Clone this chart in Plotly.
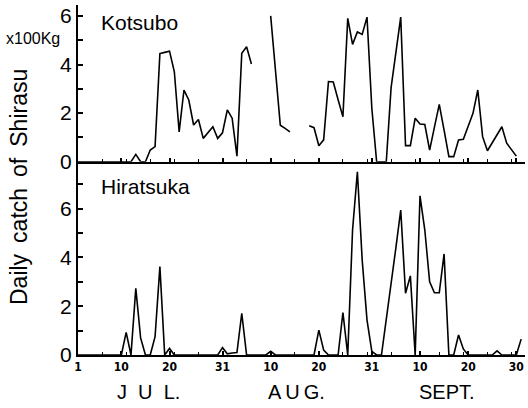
import plotly.graph_objects as go

# Day index: 0 = 1 July ... 91 = 30 September (92 = 1 October)
N = None

kotsubo = [
    0, 0, 0, 0, 0, 0, 0, 0, 0, 0,            # 0-9
    0, 0, 0.3, 0, 0, 0.48, 0.62, 4.45, 4.5, 4.55,   # 10-19
    3.7, 1.23, 2.95, 2.54, 1.51, 1.74, 0.96, 1.2, 1.44, 0.96,  # 20-29
    1.19, 2.13, 1.79, 0.23, 4.46, 4.73, 4.02, N, N, N,         # 30-39
    6.0, 3.8, 1.5, 1.37, 1.23, N, N, N, 1.48, 1.4,             # 40-49
    0.66, 0.9, 3.3, 3.28, 2.55, 1.85, 5.9, 4.83, 5.34, 5.24,   # 50-59
    5.95, 2.2, 0, 0, 0, 3.05, 4.5, 5.95, 0.66, 0.66,           # 60-69
    1.79, 1.55, 1.53, 0.48, 1.42, 2.36, 1.3, 0.21, 0.21, 0.89, # 70-79
    0.92, 1.45, 1.99, 2.95, 1.03, 0.45, 0.78, 1.1, 1.44, 0.76, # 80-89
    0.5, 0.23,                                                 # 90-91
]

hiratsuka = [
    0, 0, 0, 0, 0, 0, 0, 0, 0, 0,                    # 0-9
    0.93, 0, 2.73, 0.7, 0, 0, 0.75, 3.62, 0, 0.27,   # 10-19
    0, 0, 0, 0, 0, 0, 0, 0, 0, 0,                    # 20-29
    0.3, 0.05, 0.08, 0.1, 1.71, 0, 0, 0, 0, 0,       # 30-39
    0.15, 0, 0, 0, 0, 0, 0, 0, 0, 0,                 # 40-49
    1.02, 0.2, 0, 0, 0, 1.74, 0, 5.12, 7.51, 3.89,   # 50-59
    1.43, 0.15, 0, 0, 1.4, 2.9, 4.4, 5.94, 2.53, 3.24,  # 60-69
    0, 6.52, 5.12, 3.0, 2.55, 2.55, 4.14, 0, 0, 0.82,   # 70-79
    0.25, 0, 0, 0, 0, 0, 0, 0.17, 0, 0,              # 80-89
    0, 0, 0.65,                                      # 90-92
]

tick_days = [0, 9, 19, 30, 40, 50, 61, 71, 81, 91]
tick_labels = ["1", "10", "20", "31", "10", "20", "31", "10", "20", "30"]
month_names = ["J\u00a0\u00a0U\u00a0\u00a0L.", "A\u2009U\u2009G.", "SEPT."]

W, H = 528, 408
ML, MR, MT, MB = 78, 3, 5, 53
PW, PH = W - ML - MR, H - MT - MB
split = 193.3 / PH


def px(x):
    return (x - ML) / PW


def py(y):
    return (H - MB - y) / PH


line = dict(color="black", width=1.6)
fig = go.Figure()
fig.add_trace(go.Scatter(x=list(range(len(kotsubo))), y=kotsubo, mode="lines",
                         line=line, connectgaps=False, xaxis="x2", yaxis="y"))
fig.add_trace(go.Scatter(x=list(range(len(hiratsuka))), y=hiratsuka, mode="lines",
                         line=line, xaxis="x", yaxis="y2"))

txt = "Liberation Sans, Arial, sans-serif"
xr = [0, 92.8]
common_x = dict(range=xr, showline=True, linecolor="black", linewidth=2,
                ticks="inside", ticklen=4, tickwidth=1.5, tickcolor="black",
                tickvals=tick_days, showgrid=False, zeroline=False,
                minor=dict(tickvals=list(range(5, 91, 5)), ticks="inside",
                           ticklen=3, tickcolor="black", tickwidth=1))
fig.update_layout(
    width=W, height=H, margin=dict(l=ML, r=MR, t=MT, b=MB),
    paper_bgcolor="white", plot_bgcolor="white", showlegend=False,
    xaxis=dict(common_x, anchor="y2", ticktext=tick_labels,
               tickfont=dict(family="DejaVu Sans Condensed, Liberation Sans Narrow, sans-serif",
                             size=12, color="black", weight="bold")),
    xaxis2=dict(common_x, anchor="y", matches="x", showticklabels=False),
    yaxis=dict(domain=[split, 1], range=[0, 6.45], showline=True, linecolor="black",
               linewidth=2, ticks="inside", ticklen=5, tickwidth=1.5, tickcolor="black",
               tickvals=list(range(7)), ticktext=["0", "", "2", "", "4", "", "6"],
               tickfont=dict(family=txt, size=21, color="black"),
               showgrid=False, zeroline=False),
    yaxis2=dict(domain=[0, split], range=[0, 7.92], showline=True, linecolor="black",
                linewidth=2, ticks="inside", ticklen=5, tickwidth=1.5, tickcolor="black",
                tickvals=list(range(8)), ticktext=["0", "", "2", "", "4", "", "6", ""],
                tickfont=dict(family=txt, size=21, color="black"),
                showgrid=False, zeroline=False),
)

ann = [
    dict(text="Kotsubo", x=px(99), y=py(23), xanchor="left", font_size=21),
    dict(text="Hiratsuka", x=px(99), y=py(186), xanchor="left", font_size=21),
    dict(text="x100Kg", x=px(4), y=py(38), xanchor="left", font_size=16),
    dict(text="Daily\u2009 catch\u2009 of\u2009 Shirasu", x=px(19), y=py(187),
         xanchor="center", textangle=-90, font_size=23),
    dict(text=month_names[0], x=px(148), y=py(392), xanchor="center", font_size=20),
    dict(text=month_names[1], x=px(296), y=py(392), xanchor="center", font_size=20),
    dict(text=month_names[2], x=px(447), y=py(392), xanchor="center", font_size=20),
]
for a in ann:
    fig.add_annotation(xref="paper", yref="paper", yanchor="middle", showarrow=False,
                       font=dict(family=txt, size=a.pop("font_size"), color="black"), **a)

fig.write_html("out.html")
